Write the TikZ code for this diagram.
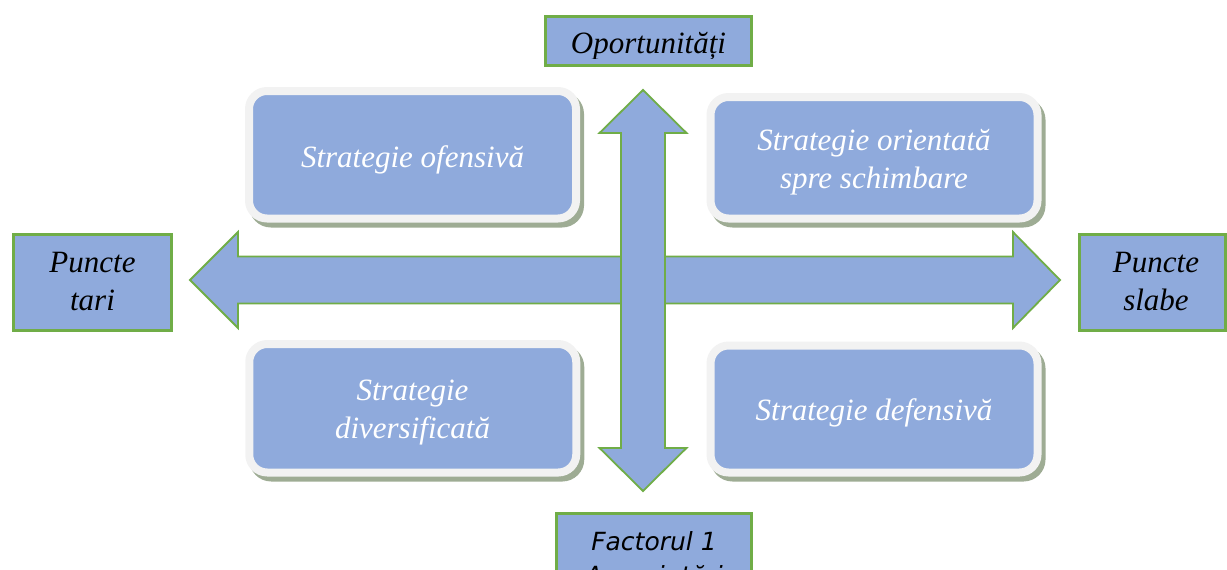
\documentclass[tikz,border=0pt]{standalone}
\usepackage{fontspec}
\setmainfont{Liberation Serif}
\newfontfamily\sansf{DejaVu Sans}
\definecolor{boxblue}{RGB}{143,170,220}
\definecolor{edgegreen}{RGB}{112,173,71}
\definecolor{framegray}{RGB}{242,242,242}
\definecolor{shadowcol}{RGB}{158,172,148}
\begin{document}
\begin{tikzpicture}[x=1pt,y=-1pt,
  lbox/.style={draw=edgegreen, line width=3pt, fill=boxblue, inner sep=0pt},
  sbox/.style={fill=boxblue, draw=framegray, line width=8pt, rounded corners=18pt,
    minimum width=327pt, inner sep=0pt,
    preaction={fill=shadowcol, draw=shadowcol, line width=8pt,
      transform canvas={shift={(4pt,-5pt)}}}},
  stext/.style={text=white, font=\fontsize{31}{38}\selectfont\itshape, align=center, inner sep=0pt},
  ltext/.style={text=black, font=\fontsize{31}{38}\selectfont\itshape, align=center, inner sep=0pt},
  ftext/.style={text=black, font=\sansf\itshape\fontsize{25}{34}\selectfont, align=center, inner sep=0pt},
  arrowshape/.style={fill=boxblue, draw=edgegreen, line width=1.8pt, line join=miter}
]
\useasboundingbox (0,0) rectangle (1227,570);
\clip (0,0) rectangle (1227,570);

% strategy boxes
\node[sbox, minimum height=127.5pt] (so) at (412.5,154.75) {};
\node[sbox, minimum height=121.5pt] (sc) at (874,157.75) {};
\node[sbox, minimum height=128.5pt] (sd) at (412.75,408.25) {};
\node[sbox, minimum height=127pt] (sf) at (874,409) {};
% (base anchor of a multi-line node = baseline of its last line)
\node[stext, anchor=base] (sot) at (412.5,167) {Strategie ofensivă};
\node[stext, anchor=base] (sct) at (874,188) {Strategie orientată\\spre schimbare};
\node[stext, anchor=base] (sdt) at (412.5,438) {Strategie\\diversificată};
\node[stext, anchor=base] (sft) at (874,420) {Strategie defensivă};

% cross arrows
\draw[arrowshape] (190,280) -- (238,232) -- (238,256.5) -- (1013,256.5) -- (1013,232)
  -- (1060,280) -- (1013,328) -- (1013,303.5) -- (238,303.5) -- (238,328) -- cycle;
\draw[arrowshape] (643,90) -- (686.5,133) -- (665,133) -- (665,448) -- (686.5,448)
  -- (643,491) -- (599.5,448) -- (621,448) -- (621,133) -- (599.5,133) -- cycle;

% label boxes
\node[lbox, minimum width=206pt, minimum height=49pt] (op) at (648.5,41) {};
\begin{scope}
  \clip (547,18) rectangle (750,58);
  \node[ltext, anchor=base] (opt) at (648.5,53) {Oportunități};
\end{scope}
\node[lbox, minimum width=158pt, minimum height=96pt] (pt) at (92.5,282.5) {};
\node[ltext, anchor=base] (ptt) at (92.5,310) {Puncte\\tari};
\node[lbox, minimum width=146pt, minimum height=96pt] (ps) at (1152,282.5) {};
\node[ltext, anchor=base] (pst) at (1156,310) {Puncte\\slabe};
\node[lbox, minimum width=195pt, minimum height=100pt, anchor=north] (fa) at (654,511.5) {};
\node[ftext, anchor=base] (fat) at (654,584) {Factorul 1\\Amenințări};
\end{tikzpicture}
\end{document}
